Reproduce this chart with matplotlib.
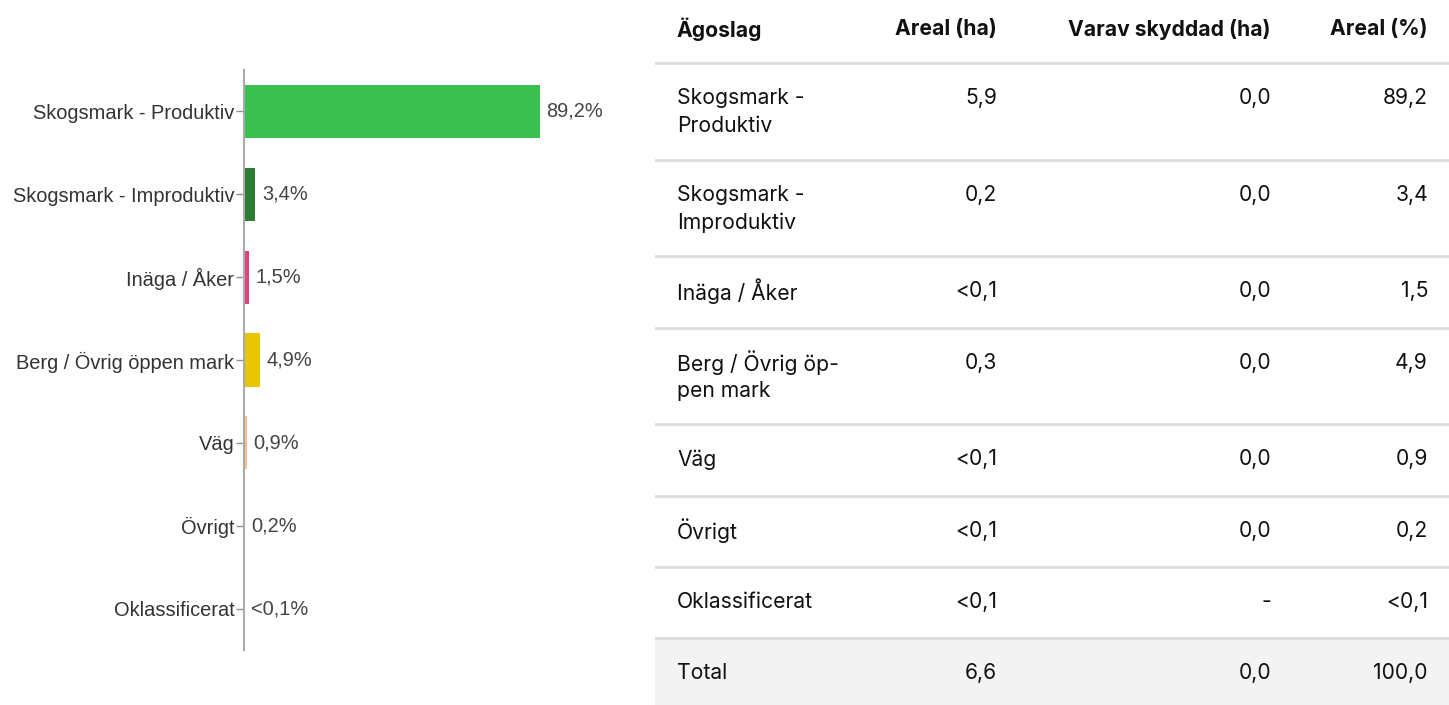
import matplotlib.pyplot as plt

categories = ['Skogsmark - Produktiv', 'Skogsmark - Improduktiv', 'Inäga / Åker',
              'Berg / Övrig öppen mark', 'Väg', 'Övrigt', 'Oklassificerat']
pct = [89.2, 3.4, 1.5, 4.9, 0.9, 0.2, 0.0]
pct_labels = ['89,2%', '3,4%', '1,5%', '4,9%', '0,9%', '0,2%', '<0,1%']
colors = ['#3bbf4e', '#2e7d35', '#e6417f', '#e8c600', '#f8c08e', '#9b7fd0', '#999999']

table_header = ['Ägoslag', 'Areal (ha)', 'Varav skyddad (ha)', 'Areal (%)']
table_names = ['Skogsmark -\nProduktiv', 'Skogsmark -\nImproduktiv', 'Inäga / Åker',
               'Berg / Övrig öp-\npen mark', 'Väg', 'Övrigt', 'Oklassificerat']
areal_ha = ['5,9', '0,2', '<0,1', '0,3', '<0,1', '<0,1', '<0,1']
skyddad_ha = ['0,0', '0,0', '0,0', '0,0', '0,0', '0,0', '-']
areal_pct = ['89,2', '3,4', '1,5', '4,9', '0,9', '0,2', '<0,1']
total_row = ['Total', '6,6', '0,0', '100,0']

W, H = 1449, 705
fig = plt.figure(figsize=(W / 100, H / 100), dpi=100)

# bar chart
ax = fig.add_axes([244 / W, 1 - 650 / H, (640 - 244) / W, 580 / H])
ypos = list(range(len(categories)))
ax.barh(ypos, pct, height=0.64, color=colors, linewidth=0)
ax.set_ylim(6.5, -0.5)
ax.set_xlim(0, (640 - 244) / 3.318)
ax.set_yticks(ypos)
ax.set_yticklabels(categories, fontsize=14.4, color='#333333', family='Liberation Sans')
ax.tick_params(axis='y', length=6, width=1, color='#8f8f8f', pad=1)
ax.set_xticks([])
for s in ['top', 'right', 'bottom']:
    ax.spines[s].set_visible(False)
ax.spines['left'].set_color('#aaaaaa')
ax.spines['left'].set_linewidth(1.5)
for y, v, lab in zip(ypos, pct, pct_labels):
    ax.text(v + 2.0, y, lab, va='center', ha='left', fontsize=14.4,
            color='#444444', family='Liberation Sans')

# table
tx = fig.add_axes([655 / W, 0, (W - 655) / W, 1])
tx.set_xlim(655, W)
tx.set_ylim(H, 0)
tx.axis('off')
col_x = [677, 997, 1271, 1428]
col_ha = ['left', 'right', 'right', 'right']
tfont = 'Inter'
fs = 15.2
for x, ha, t in zip(col_x, col_ha, table_header):
    tx.text(x, 29, t, ha=ha, va='center', fontsize=fs, fontweight='bold',
            family=tfont, color='#111111')

top = 63
line_gap = 28
tx.axhline(top, color='#dddddd', lw=2)
for i in range(len(table_names)):
    name_lines = table_names[i].split('\n')
    row_h = 71.3 if len(name_lines) == 1 else 96.7
    first = top + 35
    for k, ln in enumerate(name_lines):
        tx.text(col_x[0], first + k * line_gap, ln, ha='left', va='center',
                fontsize=fs, family=tfont, color='#111111')
    for x, t in zip(col_x[1:], [areal_ha[i], skyddad_ha[i], areal_pct[i]]):
        tx.text(x, first, t, ha='right', va='center', fontsize=fs,
                family=tfont, color='#111111')
    top += row_h
    tx.axhline(top, color='#dddddd', lw=2)

tx.axhspan(top + 1, H, color='#f3f3f3', lw=0, zorder=0)
for x, ha, t in zip(col_x, col_ha, total_row):
    tx.text(x, top + 35, t, ha=ha, va='center', fontsize=fs,
            family=tfont, color='#111111')

fig.savefig('out.png', dpi=100)
